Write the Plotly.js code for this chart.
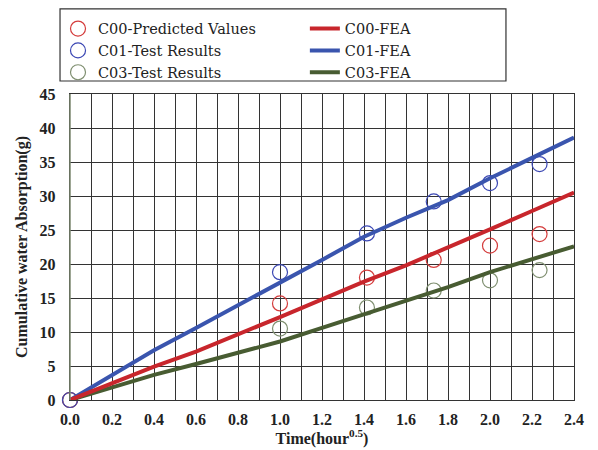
<!DOCTYPE html>
<html><head><meta charset="utf-8">
<script src="https://cdn.plot.ly/plotly-3.0.1.min.js"></script>
<style>html,body{margin:0;padding:0;background:#fff;}#chart{width:598px;height:450px;}</style>
</head><body><div id="chart"></div>
<script>
// Test / predicted points
const testX = [0, 1.0, 1.414, 1.732, 2.0, 2.236];
const c00Pred = [0, 14.2, 18.0, 20.6, 22.7, 24.4];
const c01Test = [0, 18.8, 24.5, 29.2, 31.9, 34.7];
const c03Test = [0, 10.5, 13.6, 16.1, 17.6, 19.1];
// FEA curves
const feaX = [0, 0.2, 0.4, 0.6, 0.8, 1.0, 1.2, 1.4, 1.6, 1.8, 2.0, 2.2, 2.4];
const c00FEA = [0, 2.4, 4.9, 7.1, 9.6, 12.2, 14.8, 17.4, 19.8, 22.4, 25.1, 27.8, 30.5];
const c01FEA = [0, 3.6, 7.3, 10.6, 13.9, 17.3, 20.6, 24.0, 26.8, 29.4, 32.6, 35.6, 38.6];
const c03FEA = [0, 1.8, 3.7, 5.3, 6.9, 8.6, 10.6, 12.6, 14.6, 16.6, 18.8, 20.7, 22.6];
const xTicks = [0, 0.2, 0.4, 0.6, 0.8, 1.0, 1.2, 1.4, 1.6, 1.8, 2.0, 2.2, 2.4];
const xTickText = ["0.0","0.2","0.4","0.6","0.8","1.0","1.2","1.4","1.6","1.8","2.0","2.2","2.4"];

const serif = "Liberation Serif, Times New Roman, serif";
const legSerif = "DejaVu Serif, serif";
function pts(name, y, color, rank) {
  return {x: testX, y: y, name: name, type: 'scatter', mode: 'markers', legend: 'legend', legendrank: rank,
    marker: {symbol: 'circle-open', size: 15, color: color, line: {width: 1.2, color: color}},
    cliponaxis: false};
}
function fea(name, y, color, rank) {
  return {x: feaX, y: y, name: name, type: 'scatter', mode: 'lines', legend: 'legend2', legendrank: rank,
    line: {color: color, width: 4}};
}
const data = [
  pts('C03-Test Results', c03Test, '#7f8f70', 3),
  pts('C00-Predicted Values', c00Pred, '#d43c3c', 1),
  pts('C01-Test Results', c01Test, '#3c48b4', 2),
  fea('C03-FEA', c03FEA, '#485c32', 3),
  fea('C01-FEA', c01FEA, '#3a55ae', 2),
  fea('C00-FEA', c00FEA, '#c8262c', 1)
];
const legFont = {family: legSerif, size: 14.5, color: '#222'};
const layout = {
  width: 598, height: 450,
  margin: {l: 70, r: 24, t: 94, b: 50},
  paper_bgcolor: '#fff', plot_bgcolor: '#fff',
  font: {family: serif, color: '#222'},
  showlegend: true,
  legend: {x: -0.0238, y: 1.266, xanchor: 'left', yanchor: 'top', traceorder: 'normal',
    bgcolor: 'rgba(0,0,0,0)', font: legFont, tracegroupgap: 0, itemwidth: 30},
  legend2: {x: 0.466, y: 1.266, xanchor: 'left', yanchor: 'top', traceorder: 'normal',
    bgcolor: 'rgba(0,0,0,0)', font: legFont, tracegroupgap: 0, itemwidth: 30},
  xaxis: {range: [0, 2.4], tickvals: xTicks, ticktext: xTickText, ticks: '',
    showgrid: true, gridcolor: '#333', gridwidth: 1,
    minor: {dtick: 0.1, showgrid: true, gridcolor: '#333', gridwidth: 1, ticks: ''},
    showline: true, linecolor: '#333', linewidth: 1.3, mirror: true, zeroline: false,
    ticklabelstandoff: 4,
    tickfont: {family: serif, size: 16, color: '#222', weight: 'bold'},
    title: {text: '<b>Time(hour<sup>0.5</sup>)</b>', font: {family: serif, size: 16, color: '#222'}, standoff: 4}},
  yaxis: {range: [0, 45], dtick: 5, ticks: '',
    showgrid: true, gridcolor: '#333', gridwidth: 1,
    showline: true, linecolor: '#333', linewidth: 1.3, mirror: true, zeroline: false,
    ticklabelstandoff: 10,
    tickfont: {family: serif, size: 16, color: '#222', weight: 'bold'},
    title: {text: '<b>Cumulative water Absorption(g)</b>', font: {family: serif, size: 16, color: '#222'}, standoff: 8}},
  shapes: [
    {type: 'rect', xref: 'paper', yref: 'paper', x0: -0.0198, x1: 0.865, y0: 1.0425, y1: 1.278,
     line: {color: '#333', width: 1.2}, fillcolor: 'rgba(0,0,0,0)'},
    {type: 'line', xref: 'paper', yref: 'paper', x0: 0, x1: 0, y0: 0, y1: 1,
     line: {color: '#7d8870', width: 1.5}}
  ]
};
Plotly.newPlot('chart', data, layout, {displayModeBar: false, staticPlot: true});
</script></body></html>
